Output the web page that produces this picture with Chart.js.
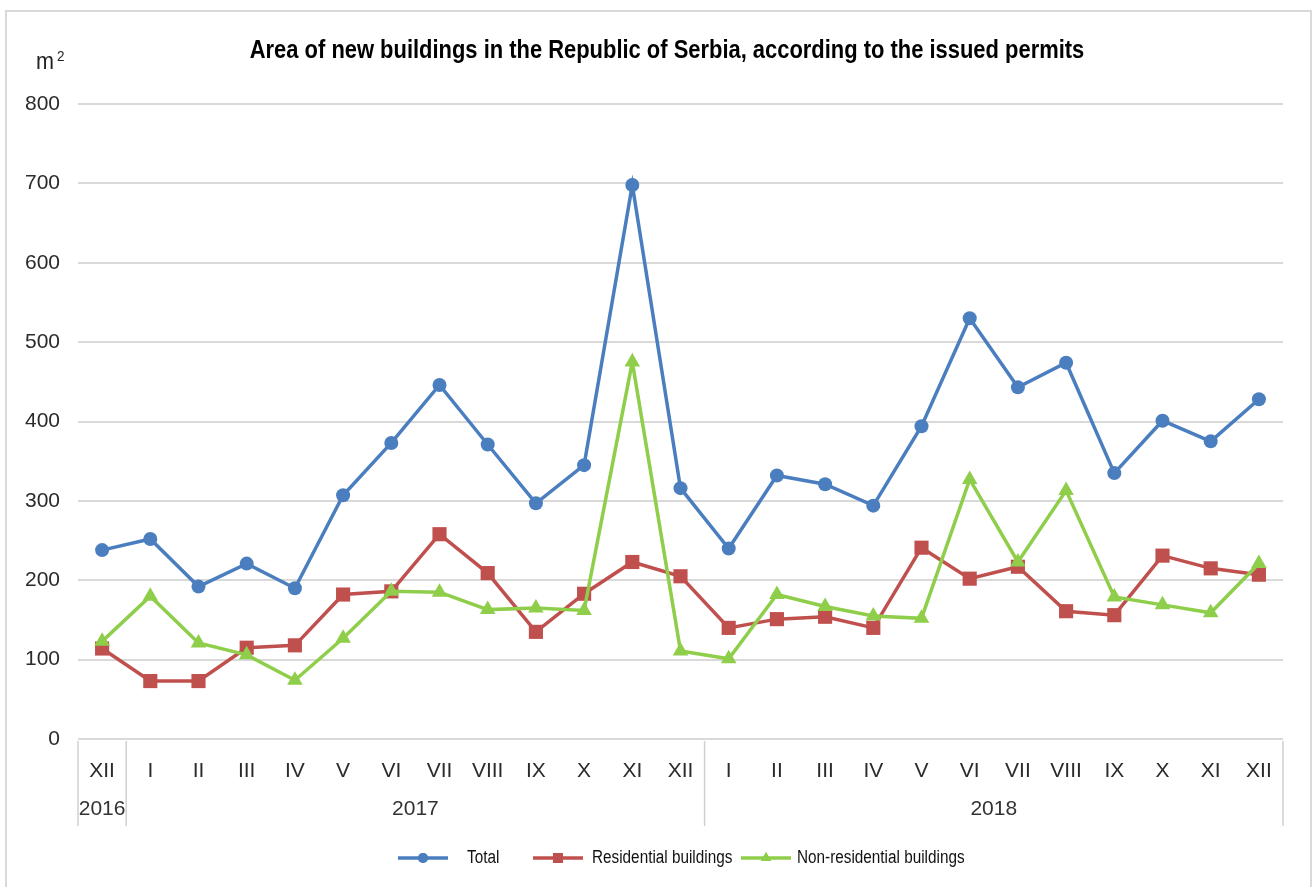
<!DOCTYPE html>
<html>
<head>
<meta charset="utf-8">
<script src="https://cdn.jsdelivr.net/npm/chart.js@4"></script>
<style>
  body { margin: 0; background: #fff; }
  #wrap { width: 1313px; height: 887px; }
</style>
</head>
<body>
<div id="wrap"><canvas id="chart" width="1313" height="887"></canvas></div>
<script>
const months = ["XII", "I", "II", "III", "IV", "V", "VI", "VII", "VIII", "IX", "X", "XI", "XII",
                "I", "II", "III", "IV", "V", "VI", "VII", "VIII", "IX", "X", "XI", "XII"];
const yearLabels = ["2016", "2017", "2018"];
const yearSpans = [1, 12, 12];

const total = [238, 252, 192, 221, 190, 307, 373, 446, 371, 297, 345, 698, 316,
               240, 332, 321, 294, 394, 530, 443, 474, 335, 401, 375, 428];
const residential = [114, 73, 73, 115, 118, 182, 186, 258, 209, 135, 183, 223, 205,
                     140, 151, 154, 140, 241, 202, 217, 161, 156, 231, 215, 207];
const nonResidential = [123, 180, 121, 106, 74, 127, 186, 185, 163, 165, 162, 475, 111,
                        101, 182, 167, 155, 152, 327, 223, 313, 179, 169, 159, 221];

const seriesNames = ["Total", "Residential buildings", "Non-residential buildings"];
const yTicks = [0, 100, 200, 300, 400, 500, 600, 700, 800];

const BLUE = "#4a7ebf";
const RED = "#c0504d";
const GREEN = "#8fce4a";
const SANS = "'Liberation Sans', Arial, sans-serif";

// no narrow face installed, so squeeze the text horizontally
function narrowText(ctx, text, x, y, sx) {
  ctx.save();
  ctx.translate(x, y);
  ctx.scale(sx, 1);
  ctx.fillText(text, 0, 0);
  ctx.restore();
}

// frame, title, unit, year row, legend
const extras = {
  id: "extras",
  beforeDraw(chart) {
    const ctx = chart.ctx;
    ctx.save();
    ctx.strokeStyle = "#d9d9d9";
    ctx.lineWidth = 2;
    ctx.strokeRect(6, 11, 1305, 900);
    ctx.restore();
  },
  afterDraw(chart) {
    const ctx = chart.ctx;
    const x = chart.scales.x;
    const area = chart.chartArea;
    ctx.save();

    // title
    ctx.fillStyle = "#000";
    ctx.font = "bold 25px " + SANS;
    ctx.textAlign = "center";
    ctx.textBaseline = "middle";
    narrowText(ctx, "Area of new buildings in the Republic of Serbia, according to the issued permits", 667, 51, 0.877);

    // unit
    ctx.fillStyle = "#222";
    ctx.font = "24px " + SANS;
    ctx.textAlign = "left";
    ctx.textBaseline = "alphabetic";
    narrowText(ctx, "m", 36, 69, 0.9);
    ctx.font = "15px " + SANS;
    narrowText(ctx, "2", 57, 61, 0.9);

    // year separators and labels
    const step = x.getPixelForValue(1) - x.getPixelForValue(0);
    ctx.strokeStyle = "#d0d0d0";
    ctx.lineWidth = 1.5;
    let start = 0;
    const edges = [x.getPixelForValue(0) - step / 2];
    yearSpans.forEach((span, i) => {
      const end = start + span - 1;
      edges.push(x.getPixelForValue(end) + step / 2);
      const cx = (x.getPixelForValue(start) + x.getPixelForValue(end)) / 2;
      ctx.fillStyle = "#333";
      ctx.font = "21px " + SANS;
      ctx.textAlign = "center";
      ctx.textBaseline = "middle";
      ctx.fillText(yearLabels[i], cx, 809);
      start = end + 1;
    });
    edges.forEach(ex => {
      ctx.beginPath();
      ctx.moveTo(ex, area.bottom + 2);
      ctx.lineTo(ex, 826);
      ctx.stroke();
    });

    // legend
    const items = [
      { lx: 398, tx: 467, color: BLUE, style: "circle", r: 5 },
      { lx: 533, tx: 592, color: RED, style: "rect", r: 7 },
      { lx: 741, tx: 797, color: GREEN, style: "triangle", r: 6 }
    ];
    const ly = 858;
    items.forEach((it, i) => {
      ctx.strokeStyle = it.color;
      ctx.lineWidth = 3.5;
      ctx.beginPath();
      ctx.moveTo(it.lx, ly);
      ctx.lineTo(it.lx + 50, ly);
      ctx.stroke();
      ctx.fillStyle = it.color;
      Chart.helpers.drawPoint(ctx, { pointStyle: it.style, radius: it.r, borderWidth: 0 }, it.lx + 25, ly);
      ctx.fill();
      ctx.fillStyle = "#111";
      ctx.font = "18px " + SANS;
      ctx.textAlign = "left";
      ctx.textBaseline = "middle";
      narrowText(ctx, seriesNames[i], it.tx, ly, 0.85);
    });
    ctx.restore();
  }
};

const ds = (label, data, color, style, radius, order) => ({
  label, data,
  borderColor: color,
  backgroundColor: color,
  borderWidth: 3.5,
  pointStyle: style,
  pointRadius: radius,
  pointBorderWidth: 0,
  pointBackgroundColor: color,
  tension: 0,
  order
});

new Chart(document.getElementById("chart"), {
  type: "line",
  data: {
    labels: months,
    datasets: [
      ds(seriesNames[0], total, BLUE, "circle", 7, 2),
      ds(seriesNames[1], residential, RED, "rect", 10, 1),
      ds(seriesNames[2], nonResidential, GREEN, "triangle", 9, 0)
    ]
  },
  options: {
    responsive: false,
    animation: false,
    layout: { padding: { top: 104, right: 30, left: 0, bottom: 0 } },
    plugins: {
      legend: { display: false },
      title: { display: false },
      tooltip: { enabled: false }
    },
    scales: {
      x: {
        offset: true,
        grid: { display: false, drawTicks: false },
        border: { display: false },
        ticks: {
          color: "#2b2b2b",
          font: { family: SANS, size: 21 },
          padding: 20,
          maxRotation: 0,
          autoSkip: false
        },
        afterFit: s => { s.height = 887 - 739; }
      },
      y: {
        min: 0,
        max: 800,
        afterBuildTicks: s => { s.ticks = yTicks.map(v => ({ value: v })); },
        grid: { color: "#d9d9d9", lineWidth: 2, drawTicks: false },
        border: { display: false },
        ticks: {
          color: "#2b2b2b",
          font: { family: SANS, size: 21 },
          padding: 18
        },
        afterFit: s => { s.width = 78; }
      }
    }
  },
  plugins: [extras]
});
</script>
</body>
</html>
